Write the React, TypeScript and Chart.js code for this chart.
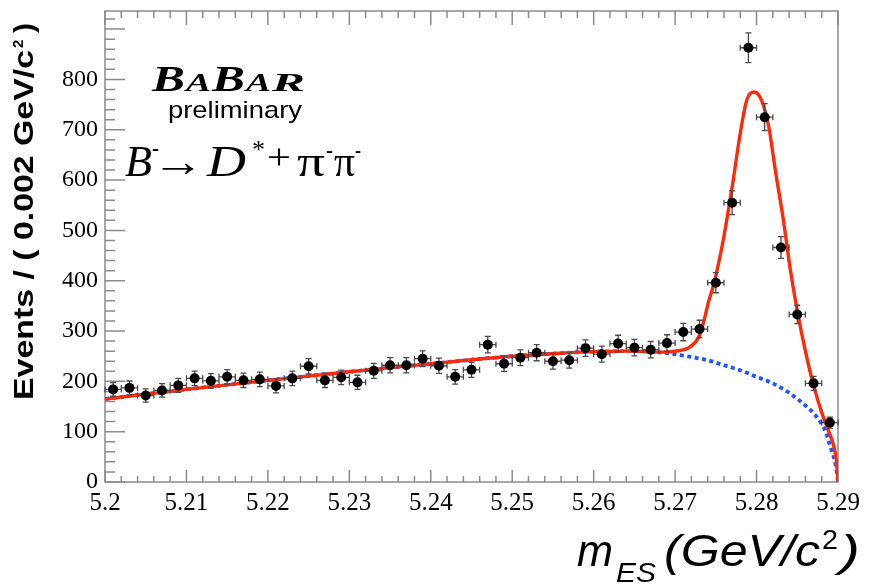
import React, { useEffect, useRef } from 'react';
import { Chart, registerables } from 'chart.js';

Chart.register(...registerables);

// ---- data ----
const binCenters = [
  5.201, 5.203, 5.205, 5.207, 5.209, 5.211, 5.213, 5.215, 5.217, 5.219,
  5.221, 5.223, 5.225, 5.227, 5.229, 5.231, 5.233, 5.235, 5.237, 5.239,
  5.241, 5.243, 5.245, 5.247, 5.249, 5.251, 5.253, 5.255, 5.257, 5.259,
  5.261, 5.263, 5.265, 5.267, 5.269, 5.271, 5.273, 5.275, 5.277, 5.279,
  5.281, 5.283, 5.285, 5.287, 5.289,
];
const counts = [
  184, 187, 172, 182, 192, 206, 201, 209, 202, 204,
  191, 206, 230, 202, 208, 198, 221, 232, 232, 245,
  231, 209, 223, 273, 235, 247, 257, 240, 242, 266,
  254, 275, 267, 263, 276, 298, 304, 396, 555, 863,
  725, 466, 333, 196, 118,
];
const countErrors = [
  13.6, 13.7, 13.1, 13.5, 13.9, 14.4, 14.2, 14.5, 14.2, 14.3,
  13.8, 14.4, 15.2, 14.2, 14.4, 14.1, 14.9, 15.2, 15.2, 15.7,
  15.2, 14.5, 14.9, 16.5, 15.3, 15.7, 16.0, 15.5, 15.6, 16.3,
  15.9, 16.6, 16.3, 16.2, 16.6, 17.3, 17.4, 19.9, 23.6, 29.4,
  26.9, 21.6, 18.2, 14.0, 10.9,
];
const binHalfWidth = 0.001;

// total fit (red, solid)
const fitX = [
  5.2, 5.21, 5.22, 5.23, 5.24, 5.245, 5.25, 5.255, 5.26, 5.265,
  5.268, 5.27, 5.2718, 5.2729, 5.2735, 5.2741, 5.2747, 5.2759, 5.277, 5.278,
  5.2788, 5.2797, 5.2806, 5.2815, 5.2823, 5.2833, 5.2841, 5.285, 5.2862, 5.287,
  5.288, 5.2888, 5.2894, 5.2898, 5.29,
];
const fitTotal = [
  165, 184, 202, 219, 235, 243, 250, 255, 259, 260,
  258, 260, 268, 288, 318, 358, 390, 480, 586, 693,
  759, 775, 759, 706, 620, 520, 427, 340, 245, 192,
  138, 103, 76, 43, 0,
];

// background component (blue, dotted)
const bkgX = [
  5.2, 5.21, 5.22, 5.23, 5.24, 5.245, 5.25, 5.255, 5.26, 5.265,
  5.2685, 5.2718, 5.274, 5.276, 5.278, 5.28, 5.282, 5.284, 5.286, 5.2874,
  5.2884, 5.2892, 5.2897, 5.29,
];
const bkgValues = [
  165, 184, 202, 219, 235, 243, 250, 255, 259, 260,
  257, 249, 242, 232, 222, 209, 196, 177, 152, 129,
  103, 63, 35, 0,
];

const xTickValues = [5.2, 5.21, 5.22, 5.23, 5.24, 5.25, 5.26, 5.27, 5.28, 5.29];
const yTickValues = [0, 100, 200, 300, 400, 500, 600, 700, 800];
const xMinorStep = 0.002;
const yMinorStep = 20;
const X_MIN = 5.2;
const X_MAX = 5.29;
const Y_MIN = 0;
const Y_MAX = 936;

const SERIF = '"Liberation Serif", "Times New Roman", Times, serif';
const SANS = '"Liberation Sans", Arial, Helvetica, sans-serif';

function fitText(
  ctx: CanvasRenderingContext2D,
  text: string,
  x: number,
  baseline: number,
  font: string,
  targetWidth?: number
) {
  ctx.font = font;
  const w = ctx.measureText(text).width;
  const sx = targetWidth ? targetWidth / w : 1;
  ctx.save();
  ctx.translate(x, baseline);
  ctx.scale(sx, 1);
  ctx.textAlign = 'left';
  ctx.textBaseline = 'alphabetic';
  ctx.fillText(text, 0, 0);
  ctx.restore();
  return x + w * sx;
}

const framePlugin = {
  id: 'rootFrame',
  beforeDatasetsDraw(chart: any) {
    const { ctx, chartArea } = chart;
    const { left, right, top, bottom } = chartArea;
    const xs = chart.scales.x;
    const ys = chart.scales.y;
    ctx.save();
    ctx.strokeStyle = '#8c8c8c';
    ctx.lineWidth = 1.5;
    ctx.strokeRect(left, top, right - left, bottom - top);
    ctx.beginPath();
    const nx = Math.round((X_MAX - X_MIN) / xMinorStep);
    for (let k = 0; k <= nx; k++) {
      const px = xs.getPixelForValue(X_MIN + k * xMinorStep);
      const major = k % 5 === 0;
      ctx.moveTo(px, bottom);
      ctx.lineTo(px, bottom - (major ? 12 : 6));
      ctx.moveTo(px, top);
      ctx.lineTo(px, top + (major ? 14 : 7));
    }
    for (let k = 0; ; k++) {
      const v = Y_MIN + k * yMinorStep;
      if (v > Y_MAX) break;
      const py = ys.getPixelForValue(v);
      const major = k % 5 === 0;
      ctx.moveTo(left, py);
      ctx.lineTo(left + (major ? 20 : 10), py);
    }
    ctx.stroke();
    ctx.restore();
  },
};

const errorBarPlugin = {
  id: 'errorBars',
  beforeDatasetDraw(chart: any, args: any) {
    if (args.index !== 0) return;
    const { ctx } = chart;
    const xs = chart.scales.x;
    const ys = chart.scales.y;
    ctx.save();
    ctx.strokeStyle = '#4a4a4a';
    ctx.lineWidth = 1.3;
    ctx.beginPath();
    for (let i = 0; i < binCenters.length; i++) {
      const px = xs.getPixelForValue(binCenters[i]);
      const py = ys.getPixelForValue(counts[i]);
      const yt = ys.getPixelForValue(counts[i] + countErrors[i]);
      const yb = ys.getPixelForValue(counts[i] - countErrors[i]);
      const xl = xs.getPixelForValue(binCenters[i] - binHalfWidth);
      const xr = xs.getPixelForValue(binCenters[i] + binHalfWidth);
      ctx.moveTo(px, yt);
      ctx.lineTo(px, yb);
      ctx.moveTo(px - 3, yt);
      ctx.lineTo(px + 3, yt);
      ctx.moveTo(px - 3, yb);
      ctx.lineTo(px + 3, yb);
      ctx.moveTo(xl, py);
      ctx.lineTo(xr, py);
      ctx.moveTo(xl, py - 3);
      ctx.lineTo(xl, py + 3);
      ctx.moveTo(xr, py - 3);
      ctx.lineTo(xr, py + 3);
    }
    ctx.stroke();
    ctx.restore();
  },
};

const textPlugin = {
  id: 'annotations',
  afterDraw(chart: any) {
    const { ctx } = chart;
    ctx.save();
    ctx.fillStyle = '#000';

    // BABAR logo
    const big = `italic bold 36px ${SERIF}`;
    const small = `italic bold 25px ${SERIF}`;
    fitText(ctx, 'B', 152, 91, big, 33);
    fitText(ctx, 'A', 186, 91, small, 25);
    fitText(ctx, 'B', 212, 91, big, 33);
    fitText(ctx, 'A', 246, 91, small, 25);
    fitText(ctx, 'R', 272, 91, small, 33);

    // preliminary
    fitText(ctx, 'preliminary', 168, 118, `24px ${SANS}`, 134);

    // decay
    fitText(ctx, 'B', 125, 176, `italic 44px ${SERIF}`, 27);
    fitText(ctx, '-', 152, 156, `26px ${SERIF}`, 7);
    fitText(ctx, '\u2192', 152, 176, `44px ${SERIF}`, 52);
    fitText(ctx, 'D', 207, 176, `italic 44px ${SERIF}`, 39);
    fitText(ctx, '*', 252, 158, `26px ${SERIF}`, 13);
    fitText(ctx, '+', 267, 169, `36px ${SERIF}`, 24);
    fitText(ctx, '\u03c0', 297, 176, `44px ${SERIF}`, 28);
    fitText(ctx, '-', 326, 158, `26px ${SERIF}`, 7);
    fitText(ctx, '\u03c0', 334, 176, `44px ${SERIF}`, 21);
    fitText(ctx, '-', 355, 158, `26px ${SERIF}`, 6);

    // x-axis title
    fitText(ctx, 'm', 577, 566, `italic 44px ${SANS}`, 36);
    fitText(ctx, 'ES', 616, 582, `italic 28px ${SANS}`, 40);
    fitText(ctx, '(GeV/c', 664, 566, `italic 44px ${SANS}`, 156);
    fitText(ctx, '2', 822, 549, `28px ${SANS}`, 16);
    fitText(ctx, ')', 840, 566, `italic 44px ${SANS}`, 20);

    // y-axis title (rotated)
    ctx.translate(33, 400);
    ctx.rotate(-Math.PI / 2);
    fitText(ctx, 'Events / ( 0.002 GeV/c', 0, 0, `bold 27px ${SANS}`, 350);
    fitText(ctx, '2', 352, -10, `bold 15px ${SANS}`);
    fitText(ctx, ')', 367, 0, `bold 27px ${SANS}`, 10);
    ctx.restore();
  },
};

export default function App() {
  const ref = useRef<HTMLCanvasElement>(null);
  useEffect(() => {
    const canvas = ref.current;
    if (!canvas) return;
    const chart = new Chart(canvas, {
      type: 'scatter',
      data: {
        datasets: [
          {
            type: 'scatter',
            label: 'Data',
            data: binCenters.map((x, i) => ({ x, y: counts[i] })),
            pointRadius: 5,
            pointHoverRadius: 5,
            pointBackgroundColor: '#000',
            pointBorderWidth: 0,
            borderColor: '#000',
            order: 0,
          } as any,
          {
            type: 'line',
            label: 'Fit',
            data: fitX.map((x, i) => ({ x, y: fitTotal[i] })),
            borderColor: 'rgb(255, 42, 12)',
            borderWidth: 3.4,
            pointRadius: 0,
            fill: false,
            cubicInterpolationMode: 'monotone',
            order: 1,
          } as any,
          {
            type: 'line',
            label: 'Background',
            data: bkgX.map((x, i) => ({ x, y: bkgValues[i] })),
            borderColor: 'rgb(30, 85, 255)',
            borderWidth: 3.8,
            borderDash: [4, 3.5],
            borderCapStyle: 'butt',
            pointRadius: 0,
            fill: false,
            cubicInterpolationMode: 'monotone',
            order: 2,
          } as any,
        ],
      },
      options: {
        animation: false,
        responsive: false,
        devicePixelRatio: 1,
        layout: { padding: { top: 11, right: 31, left: 0, bottom: 0 } },
        plugins: {
          legend: { display: false },
          tooltip: { enabled: false },
        },
        events: [],
        scales: {
          x: {
            type: 'linear',
            min: X_MIN,
            max: X_MAX,
            grid: { display: false, drawTicks: false },
            border: { display: false },
            ticks: {
              color: '#000',
              font: { family: SERIF, size: 25 },
              padding: 6,
              maxRotation: 0,
              autoSkip: false,
              callback: (v: any) => String(Number(Number(v).toFixed(2))),
            },
            afterBuildTicks: (s: any) => {
              s.ticks = xTickValues.map((v) => ({ value: v }));
            },
            afterFit: (s: any) => {
              s.height = 104;
              s.paddingLeft = 0;
              s.paddingRight = 0;
            },
          },
          y: {
            type: 'linear',
            min: Y_MIN,
            max: Y_MAX,
            grid: { display: false, drawTicks: false },
            border: { display: false },
            ticks: {
              color: '#000',
              font: { family: SERIF, size: 24 },
              padding: 7,
              autoSkip: false,
            },
            afterBuildTicks: (s: any) => {
              s.ticks = yTickValues.map((v) => ({ value: v }));
            },
            afterFit: (s: any) => {
              s.width = 105;
              s.paddingTop = 0;
              s.paddingBottom = 0;
            },
          },
        },
      } as any,
      plugins: [framePlugin, errorBarPlugin, textPlugin],
    });
    return () => chart.destroy();
  }, []);
  return (
    <div style={{ position: 'absolute', left: 0, top: 0, width: 869, height: 586, background: '#fff' }}>
      <canvas ref={ref} width={869} height={586} style={{ display: 'block', width: 869, height: 586 }} />
    </div>
  );
}
